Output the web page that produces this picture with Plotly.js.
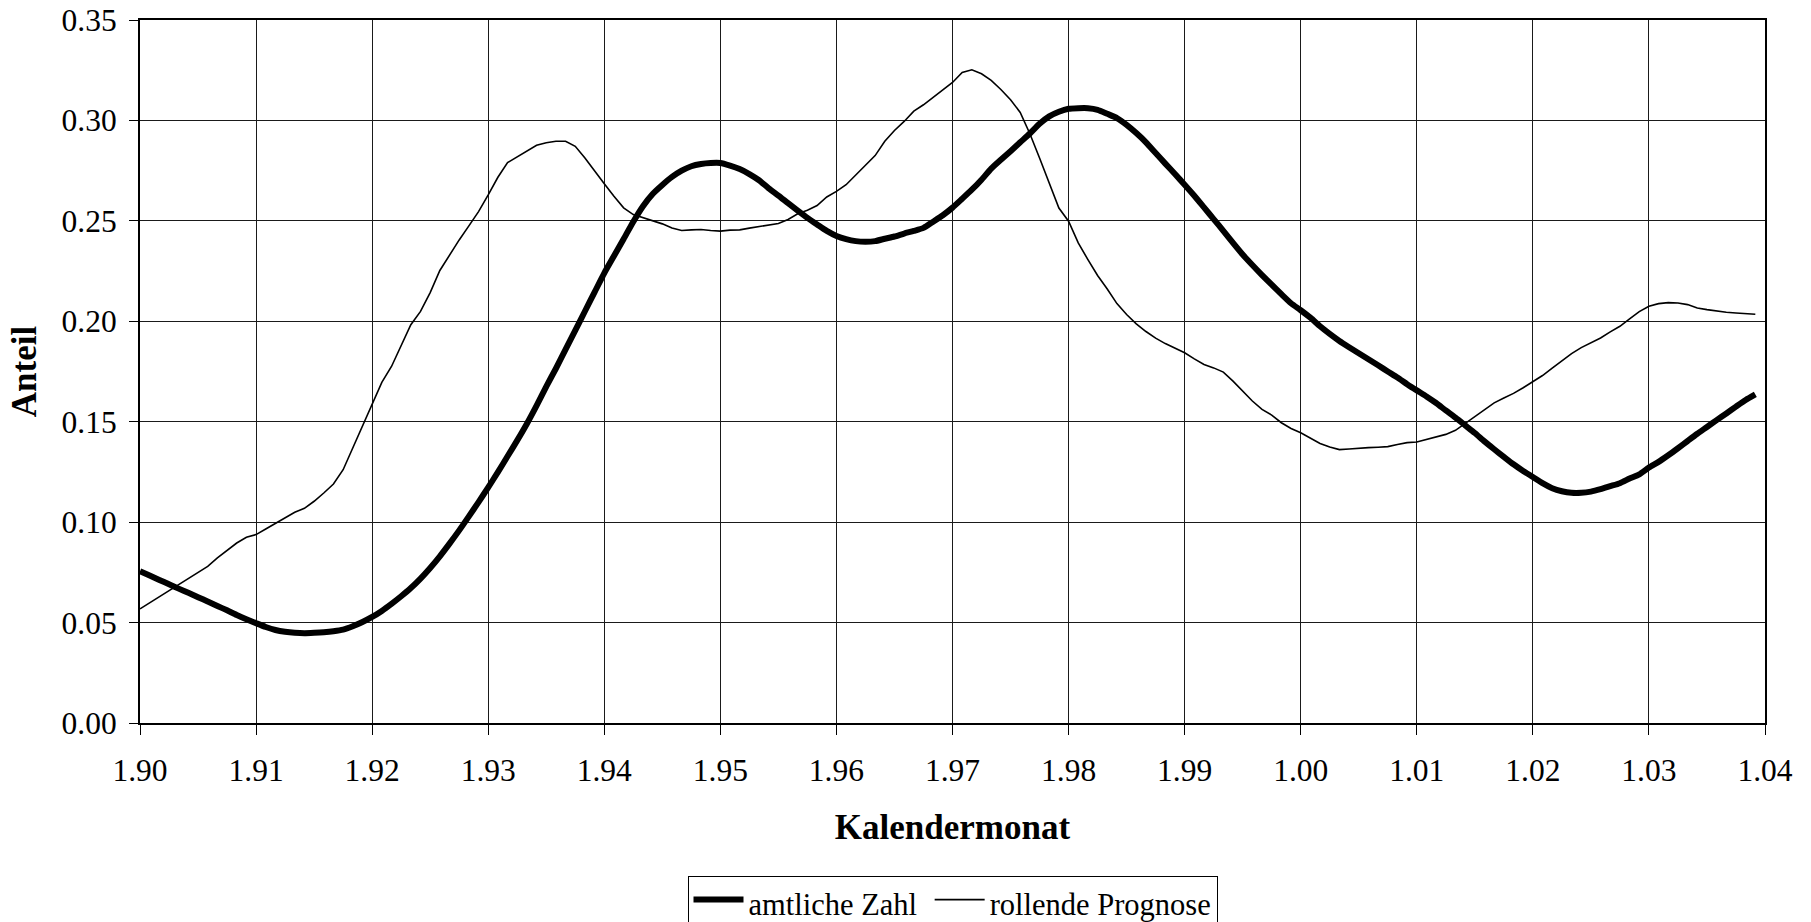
<!DOCTYPE html>
<html>
<head>
<meta charset="utf-8">
<script src="https://cdn.plot.ly/plotly-3.0.1.min.js"></script>
<style>
  html, body { margin: 0; padding: 0; background: #ffffff; }
  #chart { width: 1811px; height: 922px; }
  #chart .legend .legendlines { transform: translate(0px, -4px); }
</style>
</head>
<body>
<div id="chart"></div>
<script>
// Monthly values, January 1990 (index 0) to December 2003 (index 167)
const amtlicheZahl = [
  0.0755, 0.0734, 0.0712, 0.0691, 0.0669, 0.0648, 0.0626, 0.0605, 0.0583, 0.0561, 0.0538, 0.0517,
  0.0497, 0.0478, 0.0463, 0.0454, 0.0449, 0.0447, 0.0449, 0.0452, 0.0457, 0.0465, 0.0482, 0.0503,
  0.0528, 0.0558, 0.0593, 0.0631, 0.0672, 0.0719, 0.0772, 0.0830, 0.0893, 0.0959, 0.1029, 0.1100,
  0.1173, 0.1249, 0.1328, 0.1407, 0.1490, 0.1580, 0.1675, 0.1765, 0.1860, 0.1955, 0.2050, 0.2145,
  0.2240, 0.2325, 0.2410, 0.2496, 0.2573, 0.2634, 0.2679, 0.2719, 0.2750, 0.2772, 0.2783, 0.2788,
  0.2788, 0.2775, 0.2758, 0.2733, 0.2702, 0.2662, 0.2626, 0.2588, 0.2551, 0.2515, 0.2482, 0.2450,
  0.2425, 0.2409, 0.2399, 0.2396, 0.2399, 0.2411, 0.2422, 0.2437, 0.2450, 0.2465, 0.2496, 0.2528,
  0.2566, 0.2610, 0.2655, 0.2705, 0.2760, 0.2804, 0.2847, 0.2891, 0.2935, 0.2983, 0.3020, 0.3043,
  0.3058, 0.3061, 0.3061, 0.3053, 0.3033, 0.3012, 0.2978, 0.2937, 0.2891, 0.2838, 0.2785, 0.2733,
  0.2680, 0.2625, 0.2567, 0.2509, 0.2450, 0.2390, 0.2332, 0.2280, 0.2230, 0.2182, 0.2135, 0.2090,
  0.2055, 0.2018, 0.1975, 0.1937, 0.1902, 0.1871, 0.1841, 0.1811, 0.1781, 0.1750, 0.1720, 0.1687,
  0.1656, 0.1626, 0.1593, 0.1556, 0.1520, 0.1482, 0.1444, 0.1402, 0.1363, 0.1325, 0.1288, 0.1255,
  0.1225, 0.1194, 0.1169, 0.1154, 0.1146, 0.1146, 0.1152, 0.1164, 0.1179, 0.1194, 0.1217, 0.1238,
  0.1272, 0.1300, 0.1333, 0.1368, 0.1404, 0.1440, 0.1474, 0.1508, 0.1541, 0.1575, 0.1608, 0.1636
];

const rollendePrognose = [
  0.0568, 0.0598, 0.0628, 0.0661, 0.0692, 0.0722, 0.0752, 0.0780, 0.0822, 0.0860, 0.0896, 0.0925,
  0.0938, 0.0966, 0.0993, 0.1019, 0.1049, 0.1069, 0.1104, 0.1145, 0.1190, 0.1261, 0.1369, 0.1485,
  0.1593, 0.1696, 0.1775, 0.1878, 0.1983, 0.2049, 0.2143, 0.2253, 0.2331, 0.2405, 0.2475, 0.2546,
  0.2629, 0.2717, 0.2790, 0.2820, 0.2850, 0.2876, 0.2889, 0.2896, 0.2896, 0.2871, 0.2813, 0.2747,
  0.2685, 0.2623, 0.2565, 0.2531, 0.2515, 0.2502, 0.2485, 0.2464, 0.2452, 0.2455, 0.2457, 0.2452,
  0.2449, 0.2454, 0.2455, 0.2464, 0.2472, 0.2477, 0.2487, 0.2507, 0.2535, 0.2553, 0.2576, 0.2619,
  0.2647, 0.2680, 0.2730, 0.2780, 0.2825, 0.2896, 0.2950, 0.2995, 0.3046, 0.3078, 0.3114, 0.3152,
  0.3189, 0.3239, 0.3252, 0.3232, 0.3199, 0.3154, 0.3103, 0.3040, 0.2934, 0.2813, 0.2685, 0.2564,
  0.2498, 0.2390, 0.2307, 0.2228, 0.2161, 0.2088, 0.2034, 0.1987, 0.1949, 0.1916, 0.1889, 0.1868,
  0.1843, 0.1813, 0.1785, 0.1768, 0.1747, 0.1702, 0.1652, 0.1603, 0.1561, 0.1533, 0.1495, 0.1466,
  0.1445, 0.1419, 0.1392, 0.1374, 0.1361, 0.1364, 0.1369, 0.1371, 0.1373, 0.1376, 0.1387, 0.1396,
  0.1399, 0.1412, 0.1427, 0.1437, 0.1457, 0.1492, 0.1525, 0.1558, 0.1594, 0.1618, 0.1641, 0.1669,
  0.1699, 0.1730, 0.1767, 0.1803, 0.1839, 0.1869, 0.1891, 0.1917, 0.1947, 0.1975, 0.2012, 0.2048,
  0.2075, 0.2088, 0.2093, 0.2091, 0.2083, 0.2066, 0.2058, 0.2051, 0.2045, 0.2041, 0.2038, 0.2035
];

// Tick labels (January of each year, "Monat.Jahr")
const tickLabels = ["1.90", "1.91", "1.92", "1.93", "1.94", "1.95", "1.96", "1.97",
                    "1.98", "1.99", "1.00", "1.01", "1.02", "1.03", "1.04"];
const startYear = 1990;

// Category label for each month (e.g. "3.95")
const months = [];
for (let i = 0; i < amtlicheZahl.length; i++) {
  const mo = (i % 12) + 1;
  const yr = (startYear + Math.floor(i / 12)) % 100;
  months.push(mo + "." + String(yr).padStart(2, "0"));
}
const xIndex = months.map((_, i) => i);
const tickVals = tickLabels.map((_, i) => i * 12);

const FONT = "Liberation Serif, Times New Roman, serif";

const traces = [
  {
    x: xIndex, y: amtlicheZahl, text: months,
    type: "scatter", mode: "lines", name: "amtliche Zahl\u00a0",
    line: { color: "#000000", width: 6, shape: "spline", smoothing: 0.6 },
    hovertemplate: "%{text}: %{y:.3f}<extra></extra>"
  },
  {
    x: xIndex, y: rollendePrognose, text: months,
    type: "scatter", mode: "lines", name: "rollende Prognose",
    line: { color: "#000000", width: 1.6 },
    hovertemplate: "%{text}: %{y:.3f}<extra></extra>"
  }
];

const layout = {
  width: 1811, height: 922,
  margin: { l: 140, r: 46, t: 20, b: 199, pad: 0, autoexpand: false },
  paper_bgcolor: "#ffffff", plot_bgcolor: "#ffffff",
  font: { family: FONT, size: 31, color: "#000000" },
  showlegend: true,
  xaxis: {
    range: [0, 168],
    tickmode: "array", tickvals: tickVals, ticktext: tickLabels,
    ticks: "outside", ticklen: 10, tickwidth: 1, tickcolor: "#000000",
    ticklabelstandoff: 8,
    showgrid: true, gridcolor: "#1a1a1a", gridwidth: 1,
    showline: true, mirror: true, linecolor: "#000000", linewidth: 2,
    zeroline: false,
    tickfont: { family: FONT, size: 31.5, color: "#000000" },
    title: { text: "<b>Kalendermonat</b>", font: { family: FONT, size: 35, color: "#000000" }, standoff: 28 }
  },
  yaxis: {
    range: [0, 0.35], dtick: 0.05, tick0: 0, tickformat: ".2f",
    ticks: "outside", ticklen: 9, tickwidth: 1, tickcolor: "#000000",
    ticklabelstandoff: 6,
    showgrid: true, gridcolor: "#1a1a1a", gridwidth: 1,
    showline: true, mirror: true, linecolor: "#000000", linewidth: 2,
    zeroline: false,
    tickfont: { family: FONT, size: 31.5, color: "#000000" },
    title: { text: "<b>Anteil</b>", font: { family: FONT, size: 35, color: "#000000" }, standoff: 14 }
  },
  legend: {
    orientation: "h",
    x: 0.5, xanchor: "center",
    y: -0.218, yanchor: "top",
    bordercolor: "#000000", borderwidth: 1,
    bgcolor: "#ffffff",
    font: { family: FONT, size: 30.5, color: "#000000" },
    itemwidth: 50
  }
};

Plotly.newPlot("chart", traces, layout, { displayModeBar: false, responsive: false });
</script>
</body>
</html>
